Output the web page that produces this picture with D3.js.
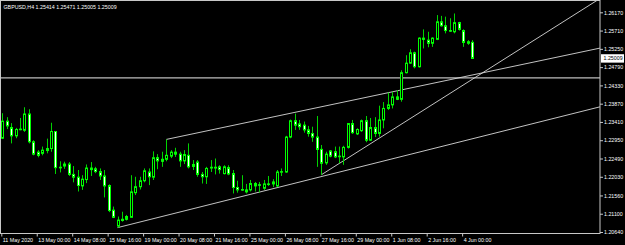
<!DOCTYPE html>
<html>
<head>
<meta charset="utf-8">
<script src="https://cdn.jsdelivr.net/npm/d3@7"></script>
<style>
  html, body { margin: 0; padding: 0; background: #000; }
  svg { display: block; }
  text { font-family: "Liberation Sans", Arial, sans-serif; }
</style>
</head>
<body>
<div id="container"></div>
<script>
// GBPUSD H4, bars from 11 May 16:00 to 4 Jun 08:00
const opens = [1.2300,1.2343,1.2327,1.2306,1.2322,1.2320,1.2361,1.2291,1.2265,1.2262,
  1.2274,1.2274,1.2317,1.2227,1.2230,1.2235,1.2209,1.2202,1.2180,1.2196,
  1.2225,1.2223,1.2216,1.2205,1.2181,1.2119,1.2079,1.2093,1.2103,1.2101,
  1.2163,1.2178,1.2193,1.2215,1.2202,1.2251,1.2247,1.2247,1.2255,1.2265,
  1.2260,1.2243,1.2257,1.2229,1.2240,1.2209,1.2203,1.2225,1.2227,1.2228,
  1.2211,1.2226,1.2211,1.2176,1.2171,1.2170,1.2170,1.2186,1.2183,1.2174,
  1.2185,1.2190,1.2180,1.2215,1.2215,1.2303,1.2344,1.2336,1.2333,1.2321,
  1.2312,1.2303,1.2272,1.2238,1.2268,1.2266,1.2255,1.2253,1.2277,1.2337,
  1.2311,1.2319,1.2344,1.2295,1.2327,1.2312,1.2346,1.2375,1.2384,1.2404,
  1.2398,1.2465,1.2489,1.2515,1.2480,1.2552,1.2547,1.2539,1.2549,1.2593,
  1.2583,1.2571,1.2568,1.2591,1.2571,1.2539,1.25414];
const highs = [1.2363,1.2353,1.2338,1.2326,1.2351,1.2378,1.2373,1.2295,1.2270,1.2279,
  1.2299,1.2339,1.2318,1.2242,1.2241,1.2240,1.2230,1.2220,1.2207,1.2234,
  1.2240,1.2228,1.2224,1.2220,1.2184,1.2128,1.2103,1.2115,1.2107,1.2207,
  1.2203,1.2203,1.2224,1.2224,1.2267,1.2260,1.2266,1.2297,1.2270,1.2276,
  1.2266,1.2270,1.2287,1.2245,1.2245,1.2215,1.2228,1.2245,1.2249,1.2232,
  1.2232,1.2232,1.2220,1.2193,1.2207,1.2185,1.2195,1.2190,1.2190,1.2195,
  1.2205,1.2197,1.2220,1.2224,1.2306,1.2347,1.2362,1.2346,1.2342,1.2331,
  1.2329,1.2356,1.2283,1.2266,1.2270,1.2279,1.2279,1.2281,1.2338,1.2346,
  1.2325,1.2347,1.2356,1.2351,1.2353,1.2382,1.2391,1.2415,1.2417,1.2421,
  1.2471,1.2509,1.2524,1.2518,1.2554,1.2574,1.2568,1.2554,1.2610,1.2608,
  1.2606,1.2602,1.2614,1.2593,1.2574,1.2547,1.25471];
const lows = [1.2298,1.2323,1.2287,1.2300,1.2320,1.2316,1.2287,1.2257,1.2252,1.2257,
  1.2262,1.2266,1.2210,1.2214,1.2223,1.2205,1.2189,1.2166,1.2170,1.2187,
  1.2205,1.2212,1.2195,1.2151,1.2114,1.2099,1.2075,1.2090,1.2093,1.2100,
  1.2157,1.2171,1.2189,1.2182,1.2195,1.2222,1.2228,1.2242,1.2250,1.2253,
  1.2228,1.2235,1.2224,1.2220,1.2203,1.2186,1.2185,1.2215,1.2209,1.2211,
  1.2209,1.2207,1.2161,1.2163,1.2168,1.2161,1.2166,1.2166,1.2163,1.2170,
  1.2180,1.2177,1.2177,1.2205,1.2213,1.2300,1.2321,1.2321,1.2314,1.2304,
  1.2291,1.2228,1.2208,1.2233,1.2252,1.2250,1.2237,1.2233,1.2274,1.2311,
  1.2308,1.2316,1.2290,1.2293,1.2303,1.2304,1.2325,1.2371,1.2375,1.2396,
  1.2392,1.2463,1.2487,1.2476,1.2478,1.2526,1.2529,1.2530,1.2547,1.2581,
  1.2564,1.2568,1.2564,1.2571,1.2530,1.2535,1.25005];
const closes = [1.2343,1.2331,1.2306,1.2322,1.2323,1.2361,1.2291,1.2260,1.2257,1.2270,
  1.2269,1.2317,1.2226,1.2226,1.2235,1.2209,1.2202,1.2181,1.2197,1.2225,
  1.2221,1.2216,1.2205,1.2180,1.2118,1.2101,1.2094,1.2096,1.2096,1.2165,
  1.2178,1.2193,1.2218,1.2203,1.2251,1.2243,1.2242,1.2257,1.2265,1.2260,
  1.2243,1.2259,1.2228,1.2234,1.2209,1.2203,1.2224,1.2227,1.2225,1.2221,
  1.2228,1.2210,1.2176,1.2170,1.2170,1.2165,1.2186,1.2180,1.2182,1.2185,
  1.2184,1.2185,1.2215,1.2216,1.2303,1.2344,1.2333,1.2329,1.2321,1.2312,
  1.2303,1.2272,1.2237,1.2260,1.2255,1.2253,1.2254,1.2277,1.2337,1.2314,
  1.2322,1.2344,1.2295,1.2327,1.2312,1.2346,1.2375,1.2384,1.2404,1.2398,
  1.2465,1.2489,1.2515,1.2480,1.2552,1.2549,1.2539,1.2552,1.2593,1.2583,
  1.2571,1.2570,1.2591,1.2574,1.2541,1.2543,1.25009];

const timeTickIdx = [0, 8, 16, 24, 32, 40, 48, 56, 64, 72, 80, 88, 96, 104];
const timeLabels = ["11 May 2020", "13 May 00:00", "14 May 08:00", "15 May 16:00",
  "19 May 00:00", "20 May 08:00", "21 May 16:00", "25 May 00:00", "26 May 08:00",
  "27 May 16:00", "29 May 00:00", "1 Jun 08:00", "2 Jun 16:00", "4 Jun 00:00"];
const priceTicks = [1.2064, 1.2110, 1.2156, 1.2203, 1.2249, 1.2295, 1.2341,
  1.2387, 1.2433, 1.2479, 1.2525, 1.2571, 1.2617];

// objects drawn on the chart: [bar index, price] anchors
const hLinePrice = 1.2452;
const upperLine = [[37, 1.2297], [126, 1.2506]];
const lowerLine = [[26, 1.2075], [108, 1.2304]];
const steepLine = [[72, 1.2208], [126, 1.2589]];

const symbolText = "GBPUSD,H4";
const lastPrice = 1.25009;

const width = 625, height = 245;
const plot = { left: 0.5, right: 600, top: 0.5, bottom: 233.5 };
const green = "#00ff00";
const wickGreen = "#00d400";
const frameColor = "#c8c8c8";

const bars = opens.map((o, i) => ({
  i, open: o, high: highs[i], low: lows[i], close: closes[i]
}));

const x = d3.scaleLinear().domain([0, 106]).range([2.3, 472]);
const y = d3.scaleLinear().domain([1.2064, 1.2617]).range([232, 12.3]);

const svg = d3.select("#container").append("svg")
  .attr("width", width).attr("height", height)
  .style("background", "#000");

svg.append("defs").append("clipPath").attr("id", "plot-clip")
  .append("rect")
  .attr("x", plot.left).attr("y", plot.top)
  .attr("width", plot.right - plot.left).attr("height", plot.bottom - plot.top);

const chart = svg.append("g").attr("clip-path", "url(#plot-clip)");

// horizontal line
chart.append("line")
  .attr("x1", plot.left).attr("x2", plot.right)
  .attr("y1", y(hLinePrice)).attr("y2", y(hLinePrice))
  .attr("stroke", "#bdbdbd").attr("stroke-width", 1.4);

// trend lines, extended to the right edge
const ray = (pts) => {
  const [[i0, p0], [i1, p1]] = pts;
  const x0 = x(i0), y0 = y(p0), x1 = x(i1), y1 = y(p1);
  const k = (y1 - y0) / (x1 - x0);
  return [x0, y0, plot.right, y0 + k * (plot.right - x0)];
};
[upperLine, lowerLine, steepLine].forEach((pts) => {
  const [ax, ay, bx, by] = ray(pts);
  chart.append("line")
    .attr("x1", ax).attr("y1", ay).attr("x2", bx).attr("y2", by)
    .attr("stroke", "#d8d8d8").attr("stroke-width", 0.9);
});

// candles
const candle = chart.selectAll("g.candle").data(bars).enter()
  .append("g").attr("class", "candle");

candle.append("line")
  .attr("x1", (d) => Math.round(x(d.i)) + 0.5)
  .attr("x2", (d) => Math.round(x(d.i)) + 0.5)
  .attr("y1", (d) => y(d.high)).attr("y2", (d) => y(d.low))
  .attr("stroke", wickGreen).attr("stroke-width", 1);

candle.append("rect")
  .attr("x", (d) => Math.round(x(d.i)) - 0.5)
  .attr("width", 2)
  .attr("y", (d) => y(Math.max(d.open, d.close)))
  .attr("height", (d) => Math.max(0.6, Math.abs(y(d.open) - y(d.close))))
  .attr("fill", (d) => (d.close > d.open ? "#000" : "#fff"))
  .attr("stroke", green).attr("stroke-width", 1);

// frame
svg.append("rect")
  .attr("x", plot.left).attr("y", plot.top)
  .attr("width", plot.right - plot.left).attr("height", plot.bottom - plot.top)
  .attr("fill", "none").attr("stroke", frameColor).attr("stroke-width", 1);

// price axis
const yAxis = svg.append("g")
  .attr("transform", `translate(${plot.right},0)`)
  .call(d3.axisRight(y).tickValues(priceTicks)
    .tickFormat(d3.format(".5f")).tickSize(3).tickPadding(1));
yAxis.select(".domain").remove();
yAxis.selectAll("line").attr("stroke", frameColor);
yAxis.selectAll("text").attr("fill", "#fff").attr("font-size", "5.3px")
  .attr("font-family", "Liberation Sans, Arial, sans-serif");

// current price box
const lp = svg.append("g").attr("transform", `translate(${plot.right + 1},${y(lastPrice)})`);
lp.append("rect").attr("x", 0).attr("y", -4.2).attr("width", 23).attr("height", 8.4)
  .attr("fill", "#fff");
lp.append("text").attr("x", 2.5).attr("y", 2).attr("font-size", "5.3px")
  .attr("fill", "#000").text(d3.format(".5f")(lastPrice));

// time axis
const xAxis = svg.append("g")
  .attr("transform", `translate(0,${plot.bottom})`)
  .call(d3.axisBottom(x).tickValues(timeTickIdx)
    .tickFormat((d, i) => timeLabels[i]).tickSize(3));
xAxis.select(".domain").remove();
xAxis.selectAll("line").attr("stroke", frameColor)
  .attr("transform", "translate(-1,0)");
xAxis.selectAll("text")
  .attr("fill", "#fff").attr("font-size", "5.3px")
  .attr("text-anchor", "start").attr("x", 0).attr("y", 4.5)
  .attr("font-family", "Liberation Sans, Arial, sans-serif");

// header
svg.append("text")
  .attr("x", 3.5).attr("y", 8.5)
  .attr("fill", "#fff").attr("font-size", "5.3px")
  .text(`${symbolText}  ${opens[106].toFixed(5)} ${highs[106].toFixed(5)} ${lows[106].toFixed(5)} ${closes[106].toFixed(5)}`);
</script>
</body>
</html>
